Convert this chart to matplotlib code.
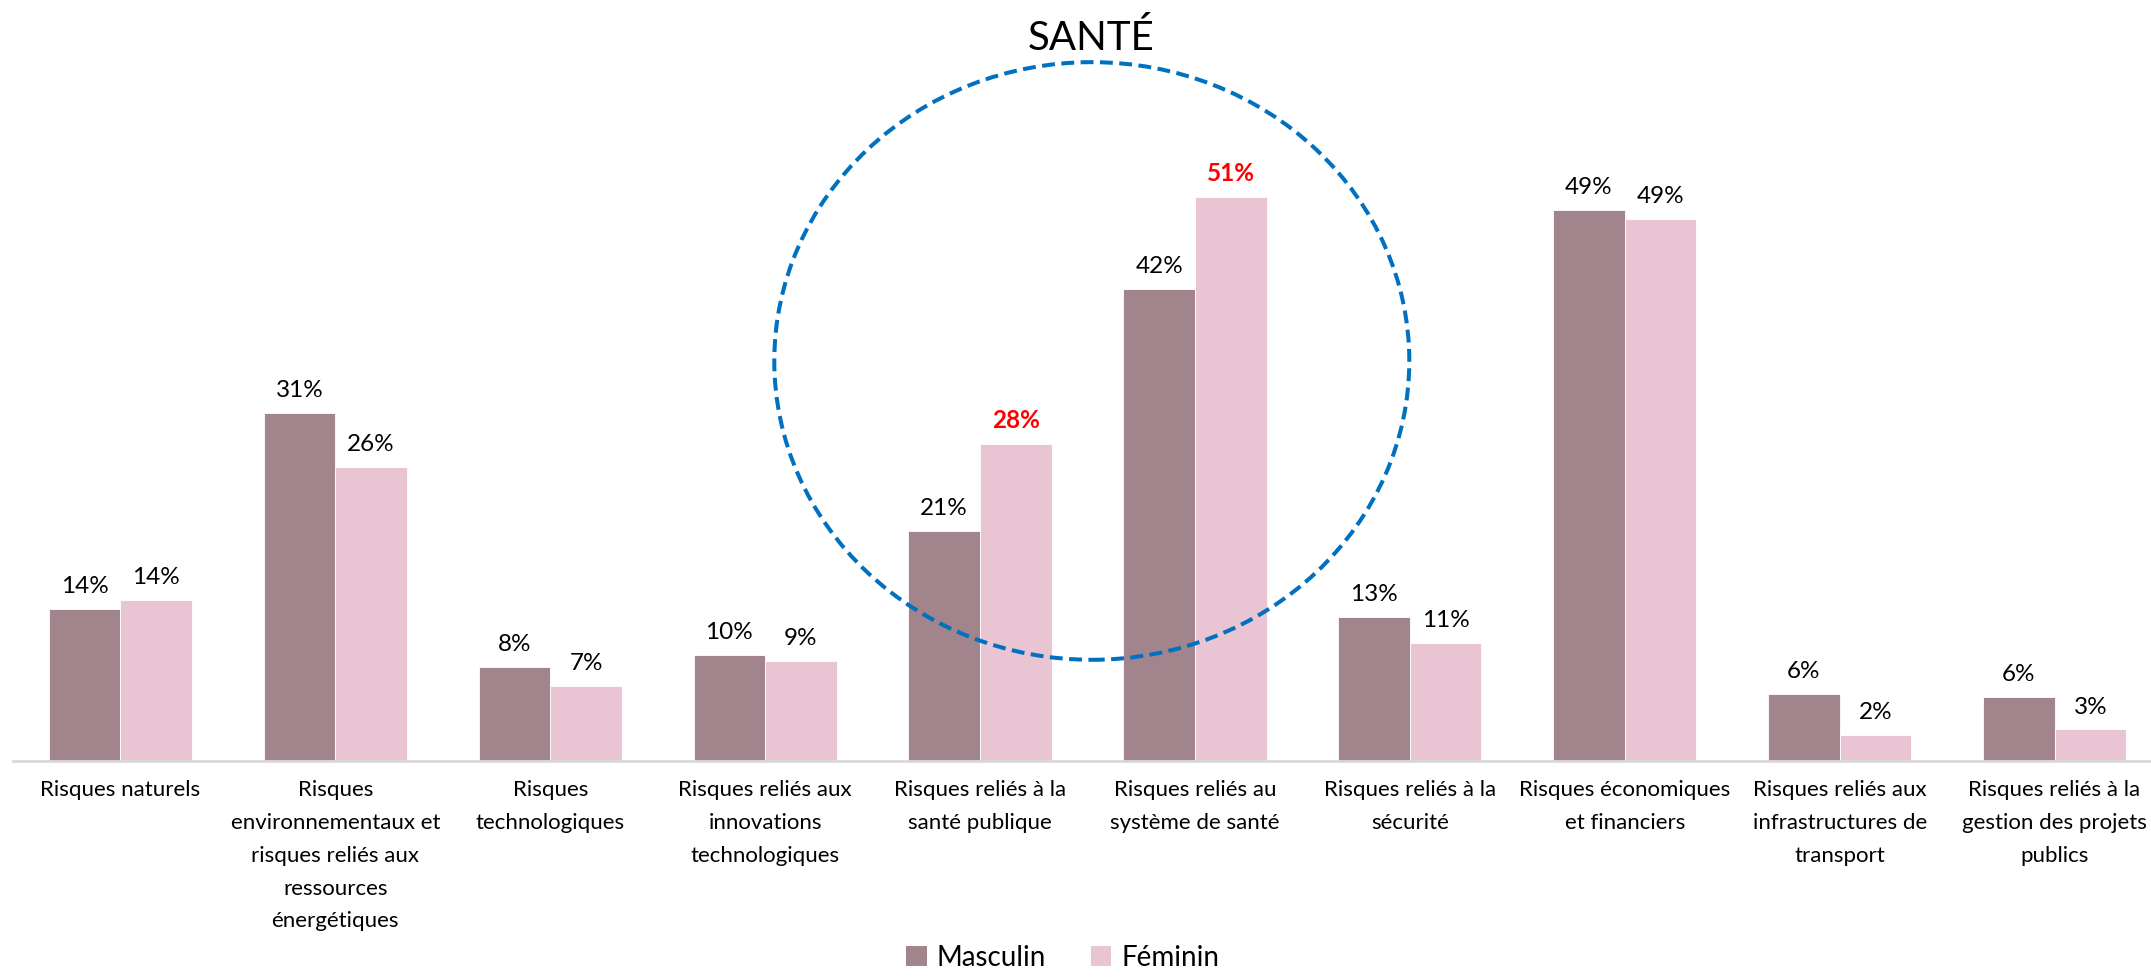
import matplotlib
matplotlib.use("Agg")
import matplotlib.pyplot as plt
from matplotlib.patches import Ellipse, Patch
import numpy as np

plt.rcParams['font.family'] = ['Lato', 'DejaVu Sans']

categories = [
    "Risques naturels",
    "Risques\nenvironnementaux et\nrisques reliés aux\nressources\nénergétiques",
    "Risques\ntechnologiques",
    "Risques reliés aux\ninnovations\ntechnologiques",
    "Risques reliés à la\nsanté publique",
    "Risques reliés au\nsystème de santé",
    "Risques reliés à la\nsécurité",
    "Risques économiques\net financiers",
    "Risques reliés aux\ninfrastructures de\ntransport",
    "Risques reliés à la\ngestion des projets\npublics",
]
masculin = [13.6, 31.2, 8.4, 9.5, 20.6, 42.3, 12.9, 49.4, 6.0, 5.7]
feminin = [14.4, 26.3, 6.7, 8.9, 28.4, 50.6, 10.6, 48.6, 2.3, 2.8]
highlight_feminin = [4, 5]  # indices with red bold labels
series_names = ["Masculin", "Féminin"]
title_text = "SANTÉ"

c_m = "#A1848C"
c_f = "#E9C5D3"


def pct(v):
    return f"{int(v + 0.5)}%"


W, H = 2151, 980
fig = plt.figure(figsize=(W / 100, H / 100), dpi=100)
ax_left = 13 / W
ax_w = 2149 / W
ax_bottom = (H - 760.7) / H
ax_h = (11.15 * 60) / H
ax = fig.add_axes([ax_left, ax_bottom, ax_w, ax_h])
ax.set_xlim(-0.5, len(categories) - 0.5)
ax.set_ylim(0, 60)

x = np.arange(len(categories))
bw = 1 / 3
ax.bar(x - bw / 2, masculin, width=bw, color=c_m, edgecolor='white', linewidth=0.6, zorder=2)
ax.bar(x + bw / 2, feminin, width=bw, color=c_f, edgecolor='white', linewidth=0.6, zorder=2)

lab_fs = 17.5
for i, v in enumerate(masculin):
    ax.annotate(pct(v), (x[i] - bw / 2, v), xytext=(0, 11.5), textcoords='offset points',
                ha='center', va='baseline', fontsize=lab_fs, color='black')
for i, v in enumerate(feminin):
    if i in highlight_feminin:
        ax.annotate(pct(v), (x[i] + bw / 2, v), xytext=(0, 11.5), textcoords='offset points',
                    ha='center', va='baseline', fontsize=lab_fs, color='#FF0000', fontweight='bold')
    else:
        ax.annotate(pct(v), (x[i] + bw / 2, v), xytext=(0, 11.5), textcoords='offset points',
                    ha='center', va='baseline', fontsize=lab_fs, color='black')

for s in ['top', 'right', 'left']:
    ax.spines[s].set_visible(False)
ax.spines['bottom'].set_color('#D9D9D9')
ax.spines['bottom'].set_linewidth(2)
ax.set_yticks([])
ax.set_xticks(x)
ax.set_xticklabels(categories, fontsize=16, linespacing=1.8, va='top')
ax.tick_params(axis='x', length=0, pad=14)

# Ellipse annotation
ell = Ellipse((4.52, 35.85), width=2.955, height=53.6, fill=False, edgecolor='#0070C0',
              linewidth=2.9, linestyle=(0, (3.2, 1.6)), clip_on=False, zorder=3)
ax.add_patch(ell)
fig.text(1091 / W, 1 - 50 / H, title_text, ha='center', va='baseline', fontsize=29, color='black')

handles = [Patch(facecolor=c_m, edgecolor='none'), Patch(facecolor=c_f, edgecolor='none')]
fig.legend(handles, series_names, loc='lower center', bbox_to_anchor=(0.494, -0.016), ncol=2,
           frameon=False, fontsize=20, handlelength=0.75, handleheight=0.75, handletextpad=0.35,
           columnspacing=1.6)

fig.savefig("out.png", dpi=100)
